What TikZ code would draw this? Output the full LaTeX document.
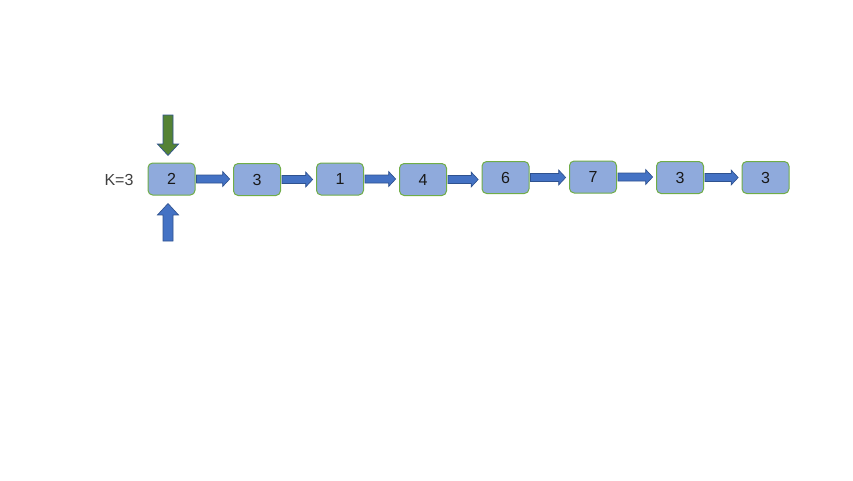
\documentclass[tikz,border=0pt]{standalone}
\usepackage{fontspec}
\setmainfont{Liberation Sans}
\usetikzlibrary{calc}

\definecolor{boxfill}{HTML}{8FAADC}
\definecolor{boxline}{HTML}{70AD47}
\definecolor{arrowfill}{HTML}{4472C4}
\definecolor{arrowline}{HTML}{2F528F}
\definecolor{downfill}{HTML}{548235}
\definecolor{labelgray}{HTML}{404040}

\tikzset{
  cell/.style={draw=boxline,fill=boxfill,line width=0.75pt,rounded corners=3.5pt,
    minimum width=35.25pt,minimum height=24pt,inner sep=0pt,
    font=\fontsize{12}{14}\selectfont,text=black!90},
  blockarrow/.style={draw=arrowline,fill=arrowfill,line width=0.5pt},
  downarrow/.style={draw=arrowline,fill=downfill,line width=0.5pt}
}

% block arrow from the east side of #1 to the west side of #2
\newcommand{\harrow}[2]{%
\draw[blockarrow] let \p1=($(#1.east)+(0.75pt,0)$), \p2=($(#2.west)+(-2.5pt,0)$) in
  (\x1,\y1+3pt) -- (\x2-5.25pt,\y1+3pt) -- (\x2-5.25pt,\y1+5.6pt) -- (\x2,\y1)
  -- (\x2-5.25pt,\y1-5.6pt) -- (\x2-5.25pt,\y1-3pt) -- (\x1,\y1-3pt) -- cycle;}

\begin{document}
\begin{tikzpicture}[x=0.75pt,y=-0.75pt]
\useasboundingbox (0,0) rectangle (853,480);

\node[text=labelgray,font=\fontsize{12}{14}\selectfont] (k) at (119,180) {K=3};

\node[cell] (b1) at (171.5,179) {2};
\node[cell] (b2) at (257,179.5) {3};
\node[cell] (b3) at (340,179) {1};
\node[cell] (b4) at (423,179.5) {4};
\node[cell] (b5) at (505.5,177.5) {6};
\node[cell] (b6) at (593,177) {7};
\node[cell] (b7) at (680,177.5) {3};
\node[cell] (b8) at (765.5,177.5) {3};

\harrow{b1}{b2}
\harrow{b2}{b3}
\harrow{b3}{b4}
\harrow{b4}{b5}
\harrow{b5}{b6}
\harrow{b6}{b7}
\harrow{b7}{b8}

% pointers above and below the first cell
\coordinate (ptop) at (168,115);
\coordinate (pbot) at (168,241);
\draw[downarrow] let \p1=(ptop), \p2=($(b1.north)+(0,5.25pt)$) in
  (\x1-3.75pt,\y1) -- (\x1-3.75pt,\y2+8.6pt) -- (\x1-7.9pt,\y2+8.6pt) -- (\x1,\y2)
  -- (\x1+7.9pt,\y2+8.6pt) -- (\x1+3.75pt,\y2+8.6pt) -- (\x1+3.75pt,\y1) -- cycle;
\draw[blockarrow] let \p1=(pbot), \p2=($(b1.south)+(0,-6pt)$) in
  (\x1-3.75pt,\y1) -- (\x1-3.75pt,\y2-8.6pt) -- (\x1-7.9pt,\y2-8.6pt) -- (\x1,\y2)
  -- (\x1+7.9pt,\y2-8.6pt) -- (\x1+3.75pt,\y2-8.6pt) -- (\x1+3.75pt,\y1) -- cycle;
\end{tikzpicture}
\end{document}
